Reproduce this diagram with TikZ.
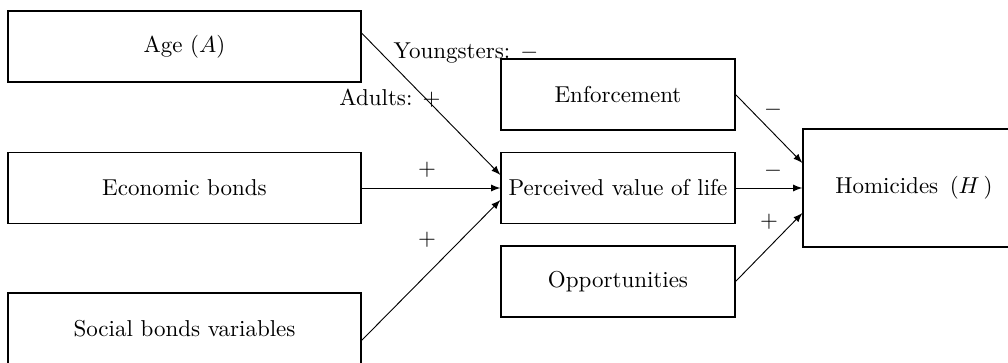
\documentclass[tikz,border=0pt]{standalone}
\usetikzlibrary{calc}

\begin{document}
\begin{tikzpicture}[x=0.435pt,y=-0.435pt,
  box/.style={shape=rectangle,draw=black,align=center,line width=0.5pt,inner sep=0pt},
  wide/.style={box,minimum width=353*0.435pt,minimum height=71*0.435pt},
  mid/.style={box,minimum width=234*0.435pt,minimum height=71*0.435pt},
  link/.style={-latex,draw=black,line width=0.4pt}]
\useasboundingbox (0,0) rectangle (1008,363);

\node[wide] (age) at (184.5,46.5) {Age $(A)$};
\node[wide] (econ) at (184.5,188) {Economic bonds};
\node[wide] (social) at (184.5,328.5) {Social bonds variables};
\node[mid] (enf) at (618,94.5) {Enforcement};
\node[mid] (life) at (618,188) {Perceived value of life};
\node[mid] (opp) at (618,281.5) {Opportunities};
\node[box,minimum width=208*0.435pt,minimum height=118*0.435pt] (hom) at (907,188) {\hspace{6pt}Homicides \,$(H\,)$};

\draw [link] ($(age.east)+(0,-13.5)$) -- ($(life.west)+(0,-13)$);
\draw [link] (econ) -- (life);
\draw [link] ($(social.east)+(0,12)$) -- ($(life.west)+(0,12)$);
\draw [link] (enf.east) -- ($(hom.west)+(0,-25)$);
\draw [link] (life) -- (hom);
\draw [link] (opp.east) -- ($(hom.west)+(0,25)$);

\node (young) at (466,53) {Youngsters: $-$};
\node (adult) at (390,98) {Adults: $+$};
\node (econsign) at (427,170) {$+$};
\node (socialsign) at (427,240) {$+$};
\node (enfsign) at (773,110) {$-$};
\node (lifesign) at (773,171) {$-$};
\node (oppsign) at (769,222) {$+$};
\end{tikzpicture}
\end{document}
